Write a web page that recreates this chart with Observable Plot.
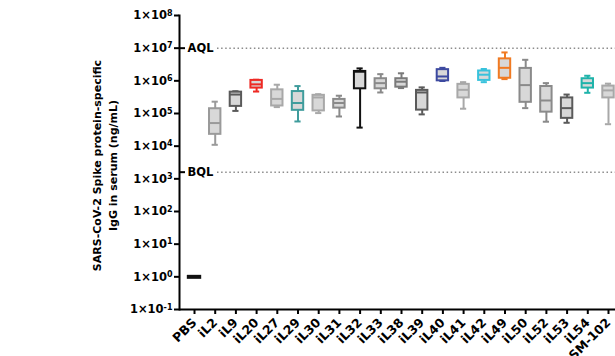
<!DOCTYPE html>
<html>
<head>
<meta charset="utf-8">
<script src="https://cdn.jsdelivr.net/npm/d3@7"></script>
<script src="https://cdn.jsdelivr.net/npm/@observablehq/plot@0.6"></script>
<style>
  html, body { margin: 0; padding: 0; background: #fff; }
  #chart svg { display: block; }
</style>
</head>
<body>
<div id="chart"></div>
<script>
const categories = ["PBS","iL2","iL9","iL20","iL27","iL29","iL30","iL31","iL32","iL33","iL38","iL39","iL40","iL41","iL42","iL49","iL50","iL52","iL53","iL54","SM-102"];
const whiskerLow  = [1, 1.1e4, 1.2e5, 4.7e5, 1.57e5, 5.7e4, 1.03e5, 8.1e4, 3.7e4, 4.4e5, 6.0e5, 9.4e4, 9.9e5, 1.4e5, 9.1e5, 1.13e6, 1.46e5, 5.6e4, 5.2e4, 4.3e5, 4.7e4];
const quart1      = [1, 2.3e4, 1.65e5, 6.0e5, 1.7e5, 1.25e5, 1.2e5, 1.46e5, 5.7e5, 5.7e5, 6.4e5, 1.27e5, 1.0e6, 3.0e5, 1.03e6, 1.2e6, 2.2e5, 1.1e5, 7.1e4, 6.0e5, 3.0e5];
const medians     = [1, 5.1e4, 3.8e5, 7.8e5, 2.8e5, 2.1e5, 3.1e5, 2.1e5, 1.9e6, 8.5e5, 9.4e5, 4.4e5, 1.36e6, 5.3e5, 1.54e6, 2.5e6, 7.4e5, 2.5e5, 1.46e5, 8.5e5, 5.1e5];
const quart3      = [1, 1.4e5, 4.5e5, 1.03e6, 5.3e5, 4.7e5, 3.6e5, 2.7e5, 1.94e6, 1.16e6, 1.16e6, 5.1e5, 2.2e6, 7.8e5, 2.0e6, 4.7e6, 2.4e6, 6.7e5, 3.0e5, 1.16e6, 6.9e5];
const whiskerHigh = [1, 2.3e5, 4.8e5, 1.08e6, 7.6e5, 6.9e5, 3.9e5, 3.5e5, 2.4e6, 1.6e6, 1.7e6, 6.3e5, 2.5e6, 9.1e5, 2.3e6, 7.4e6, 4.4e6, 8.5e5, 3.8e5, 1.43e6, 8.2e5];
const strokeColors = ["#111111","#9a9a9a","#5a5a5a","#ee2a24","#a8a8a8","#3f9c9c","#a8a8a8","#8a8a8a","#111111","#8a8a8a","#7a7a7a","#5a5a5a","#3d4aa0","#a8a8a8","#38c2dc","#f07a22","#8a8a8a","#8a8a8a","#5a5a5a","#1fb3aa","#a8a8a8"];
const yTicks = [1e-1, 1e0, 1e1, 1e2, 1e3, 1e4, 1e5, 1e6, 1e7, 1e8];
const yTickExponents = ["-1","0","1","2","3","4","5","6","7","8"];
const limitValues = [1e7, 1.6e3];
const limitLabels = ["AQL", "BQL"];
const yTitle = "SARS-CoV-2 Spike protein-specific\nIgG in serum (ng/mL)";

const rows = categories.map((cat, i) => ({
  cat, lo: whiskerLow[i], q1: quart1[i], med: medians[i], q3: quart3[i], hi: whiskerHigh[i], color: strokeColors[i]
}));
const boxes = rows.filter(d => d.cat !== "PBS");
const pbs = rows.filter(d => d.cat === "PBS");
const limits = limitValues.map((v, i) => ({v, label: limitLabels[i]}));

const FONT = "DejaVu Sans";
const W = 615, H = 356;

const chart = Plot.plot({
  width: W, height: H,
  marginLeft: 179, marginRight: 0, marginTop: 15, marginBottom: 47,
  style: {color: "#000", fontSize: "11px", fontWeight: "bold", fontFamily: FONT},
  x: {domain: categories, range: [179, 623], padding: 0.45, label: null, round: false},
  y: {type: "log", domain: [1e-1, 1e8], label: null},
  color: {type: "identity"},
  marks: [
    Plot.ruleY(limits, {y: "v", insetLeft: 38, stroke: "#8c8c8c", strokeWidth: 1.5, strokeDasharray: "1.5 2.6"}),
    Plot.ruleY(limits, {y: "v", insetRight: 430, stroke: "#000", strokeWidth: 2}),
    Plot.text(limits, {y: "v", text: "label", frameAnchor: "left", dx: 8, textAnchor: "start", fontWeight: "bold", fontSize: 11.5, fontFamily: FONT}),
    Plot.ruleX(boxes, {x: "cat", y1: "lo", y2: "hi", stroke: "color", strokeWidth: 2}),
    Plot.tickY(boxes, {x: "cat", y: "lo", stroke: "color", strokeWidth: 2, insetLeft: 2.6, insetRight: 2.6}),
    Plot.tickY(boxes, {x: "cat", y: "hi", stroke: "color", strokeWidth: 2, insetLeft: 2.6, insetRight: 2.6}),
    Plot.barY(boxes, {x: "cat", y1: "q1", y2: "q3", fill: "#d8d8d8", stroke: "color", strokeWidth: 2}),
    Plot.tickY(boxes, {x: "cat", y: "med", stroke: "color", strokeWidth: 2}),
    Plot.tickY(pbs, {x: "cat", y: "med", stroke: "color", strokeWidth: 4, insetLeft: -1.5, insetRight: -1.5}),
    Plot.axisY({ticks: yTicks, tickFormat: d => "1×10^" + yTickExponents[yTicks.indexOf(d)], tickSize: 5, tickPadding: 2, strokeWidth: 2, fontSize: 11.5, fontWeight: "bold", fontFamily: FONT, label: null}),
    Plot.axisX({tickSize: 5, tickPadding: 6, tickRotate: -45, strokeWidth: 2, fontSize: 12.5, fontWeight: "bold", fontFamily: FONT, label: null}),
    Plot.frame({anchor: "left", strokeWidth: 2}),
    Plot.ruleY([1e-1], {strokeWidth: 2}),
    Plot.text([yTitle], {text: d => d, frameAnchor: "left", dx: -76, dy: 3, rotate: -90, textAnchor: "middle", fontWeight: "bold", fontSize: 11, fontFamily: FONT, lineHeight: 1.45})
  ]
});

// Render exponents as superscripts
d3.select(chart).selectAll("text").each(function() {
  const t = this.textContent;
  if (/^1×10\^/.test(t)) {
    const [base, exp] = t.split("^");
    const sel = d3.select(this);
    sel.text(null);
    sel.append("tspan").text(base);
    sel.append("tspan").attr("dy", "-0.45em").attr("font-size", "8px").text(exp === "-1" ? "-1" : exp);
  }
});
document.getElementById("chart").append(chart);
</script>
</body>
</html>
